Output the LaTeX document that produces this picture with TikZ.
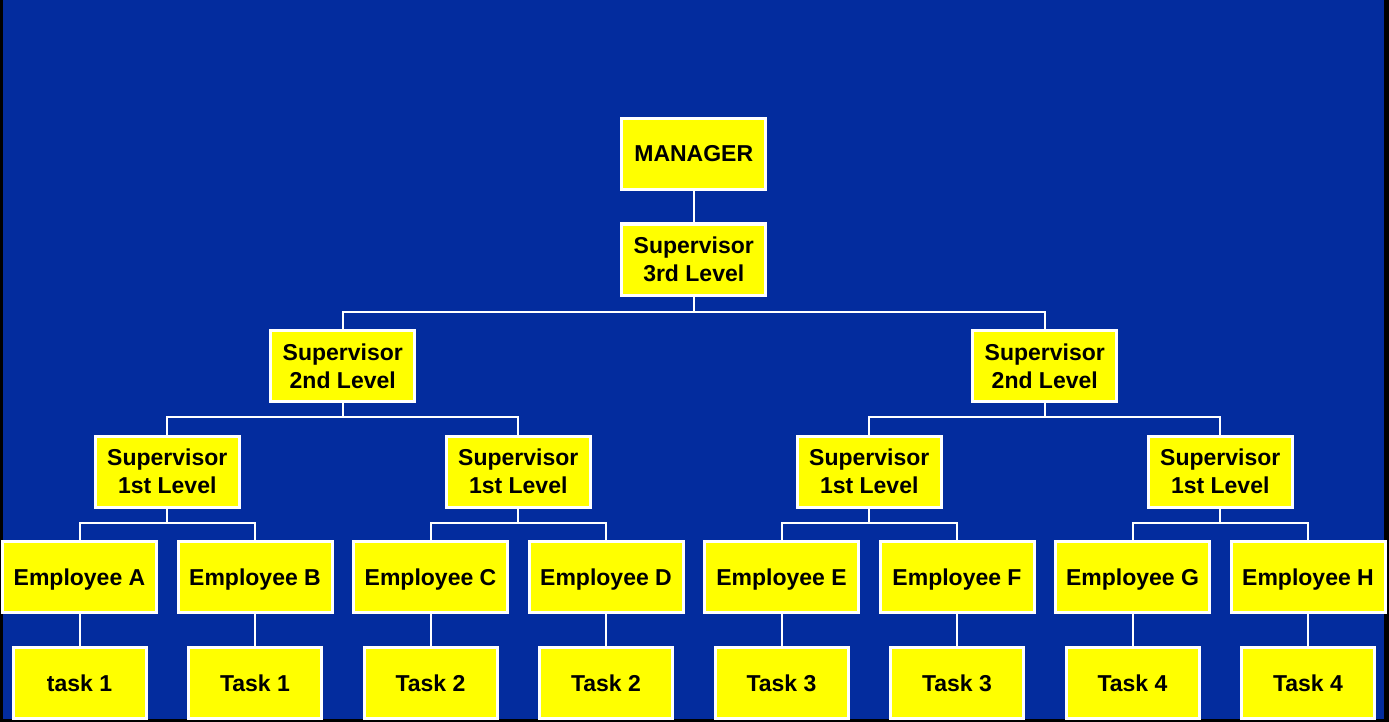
\documentclass[tikz,border=0pt]{standalone}
\usepackage{fontspec}
\setmainfont{Liberation Sans}
\definecolor{bgblue}{RGB}{3,44,158}
\definecolor{boxyellow}{RGB}{255,255,0}
\begin{document}
\begin{tikzpicture}[x=1pt,y=-1pt,
  box/.style={draw=white,line width=3pt,fill=boxyellow,inner sep=0pt,outer sep=0pt,
    minimum width=144pt,minimum height=71pt,align=center,text=black,
    font=\fontsize{23}{28}\selectfont\bfseries},
  oneline/.style={text height=16pt,text depth=0pt},
  empbox/.style={box,oneline,minimum width=154pt},
  taskbox/.style={box,oneline,minimum width=133pt},
  conn/.style={draw=white,line width=2pt}]
\useasboundingbox (0,0) rectangle (1389,722);
\fill[black] (0,0) rectangle (1389,722);
\fill[bgblue] (2.5,0) rectangle (1384,719);

\node[box,oneline] (mgr) at (693.75,154) {MANAGER};
\node[box] (s3) at (693.75,259.5) {Supervisor\\3rd Level};
\node[box] (s2a) at (342.75,366) {Supervisor\\2nd Level};
\node[box] (s2b) at (1044.75,366) {Supervisor\\2nd Level};
\node[box] (s1a) at (167.25,471.5) {Supervisor\\1st Level};
\node[box] (s1b) at (518.25,471.5) {Supervisor\\1st Level};
\node[box] (s1c) at (869.25,471.5) {Supervisor\\1st Level};
\node[box] (s1d) at (1220.25,471.5) {Supervisor\\1st Level};

\node[empbox] (ea) at (79.5,577) {Employee A};
\node[empbox] (eb) at (255,577) {Employee B};
\node[empbox] (ec) at (430.5,577) {Employee C};
\node[empbox] (ed) at (606,577) {Employee D};
\node[empbox] (ee) at (781.5,577) {Employee E};
\node[empbox] (ef) at (957,577) {Employee F};
\node[empbox] (eg) at (1132.5,577) {Employee G};
\node[empbox] (eh) at (1308,577) {Employee H};

\node[taskbox] (ta) at (79.5,683) {task 1};
\node[taskbox] (tb) at (255,683) {Task 1};
\node[taskbox] (tc) at (430.5,683) {Task 2};
\node[taskbox] (td) at (606,683) {Task 2};
\node[taskbox] (te) at (781.5,683) {Task 3};
\node[taskbox] (tf) at (957,683) {Task 3};
\node[taskbox] (tg) at (1132.5,683) {Task 4};
\node[taskbox] (th) at (1308,683) {Task 4};

\draw[conn] (mgr.south) -- (s3.north);
\foreach \c in {s2a,s2b} \draw[conn] (s3.south) -- ++(0,17) -| (\c.north);
\foreach \c in {s1a,s1b} \draw[conn] (s2a.south) -- ++(0,15) -| (\c.north);
\foreach \c in {s1c,s1d} \draw[conn] (s2b.south) -- ++(0,15) -| (\c.north);
\foreach \p/\a/\b in {s1a/ea/eb,s1b/ec/ed,s1c/ee/ef,s1d/eg/eh}{
  \draw[conn] (\p.south) -- ++(0,15.5) -| (\a.north);
  \draw[conn] (\p.south) -- ++(0,15.5) -| (\b.north);
}
\foreach \e/\t in {ea/ta,eb/tb,ec/tc,ed/td,ee/te,ef/tf,eg/tg,eh/th}
  \draw[conn] (\e.south) -- (\t.north);
\end{tikzpicture}
\end{document}
